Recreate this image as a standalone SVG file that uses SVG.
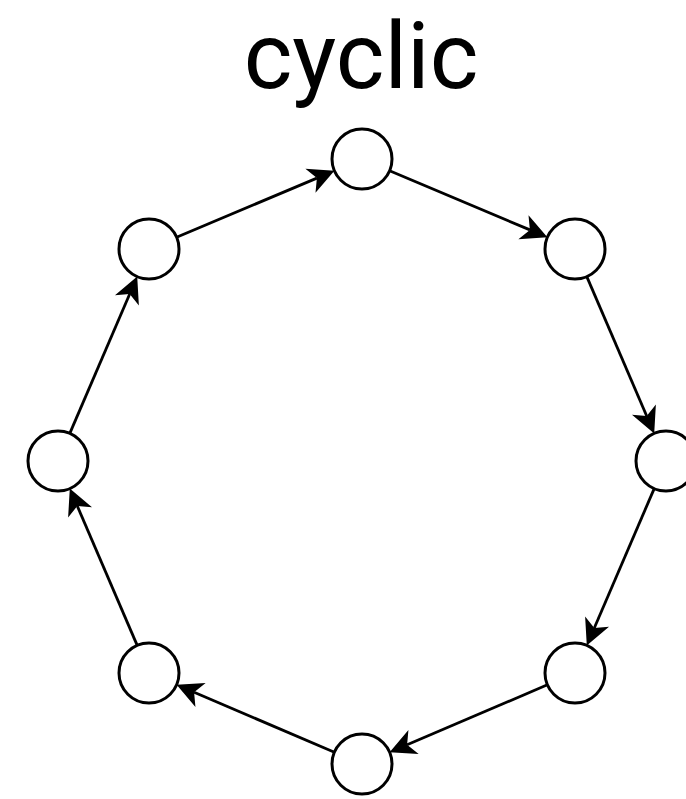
<svg xmlns="http://www.w3.org/2000/svg" width="686" height="799" viewBox="0 0 686 799">
<style>
.node{fill:#fff;stroke:#000;stroke-width:3}
.edge{fill:none;stroke:#000;stroke-width:2.8}
.title{font-family:Roboto,"Liberation Sans",sans-serif;font-size:93px;fill:#000}
</style>
<defs>
<marker id="arr" markerWidth="40" markerHeight="40" refX="7" refY="0" orient="auto" markerUnits="userSpaceOnUse" overflow="visible">
<path d="M26,0 L0,-13 L7,0 L0,13 Z" fill="#000"/>
</marker>
</defs>
<rect width="686" height="799" fill="#fff"/>
<text class="title" x="361" y="88" text-anchor="middle">cyclic</text>
<g id="connectors">
<line class="edge" x1="389.6" y1="170.7" x2="529.9" y2="229.9" marker-end="url(#arr)"/>
<line class="edge" x1="586.8" y1="276.6" x2="646.7" y2="416.0" marker-end="url(#arr)"/>
<line class="edge" x1="654.2" y1="488.6" x2="594.3" y2="628.0" marker-end="url(#arr)"/>
<line class="edge" x1="547.4" y1="684.8" x2="407.1" y2="744.8" marker-end="url(#arr)"/>
<line class="edge" x1="334.4" y1="752.2" x2="194.1" y2="692.3" marker-end="url(#arr)"/>
<line class="edge" x1="137.2" y1="645.4" x2="77.3" y2="506.0" marker-end="url(#arr)"/>
<line class="edge" x1="69.8" y1="433.4" x2="129.7" y2="294.0" marker-end="url(#arr)"/>
<line class="edge" x1="176.6" y1="237.3" x2="316.9" y2="178.1" marker-end="url(#arr)"/>
</g>
<g id="n-top"><circle class="node" cx="362" cy="159" r="30"/></g>
<g id="n-upper-right"><circle class="node" cx="575" cy="249" r="30"/></g>
<g id="n-right"><circle class="node" cx="666" cy="461" r="30"/></g>
<g id="n-lower-right"><circle class="node" cx="575" cy="673" r="30"/></g>
<g id="n-bottom"><circle class="node" cx="362" cy="764" r="30"/></g>
<g id="n-lower-left"><circle class="node" cx="149" cy="673" r="30"/></g>
<g id="n-left"><circle class="node" cx="58" cy="461" r="30"/></g>
<g id="n-upper-left"><circle class="node" cx="149" cy="249" r="30"/></g>
</svg>
